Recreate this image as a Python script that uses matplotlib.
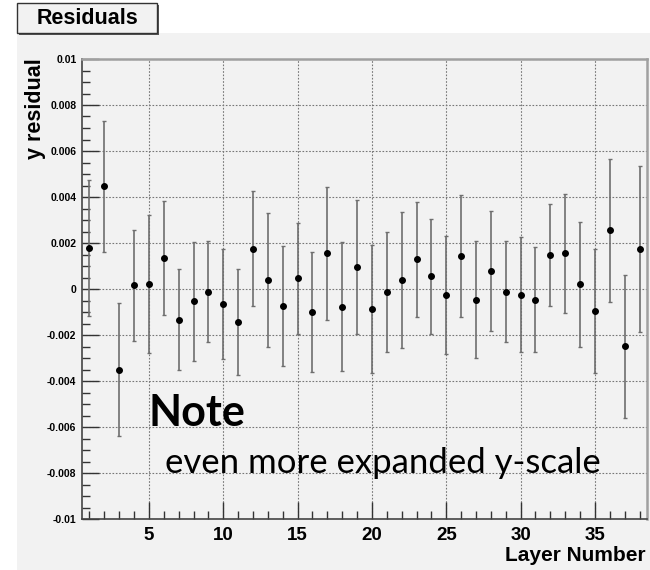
import numpy as np
import matplotlib
matplotlib.use("Agg")
import matplotlib.pyplot as plt
from matplotlib.patches import Rectangle
from matplotlib.ticker import MultipleLocator

# residual per layer and its error
layers = np.arange(1, 39)
residual = [0.00178, 0.00446, -0.0035, 0.00016, 0.0002, 0.00135, -0.00133, -0.00054,
            -0.00012, -0.00064, -0.00143, 0.00175, 0.00039, -0.00074, 0.00046, -0.0010,
            0.00155, -0.00077, 0.00096, -0.00087, -0.00014, 0.00039, 0.00129, 0.00055,
            -0.00027, 0.00145, -0.00046, 0.00078, -0.00012, -0.00026, -0.00046, 0.00148,
            0.00155, 0.0002, -0.00096, 0.00255, -0.00249, 0.00173]
error = [0.00297, 0.00284, 0.0029, 0.0024, 0.0030, 0.00247, 0.0022, 0.0026,
         0.0022, 0.0024, 0.0023, 0.0025, 0.0029, 0.0026, 0.0024, 0.0026,
         0.0029, 0.0028, 0.0029, 0.0028, 0.0026, 0.00296, 0.0025, 0.0025,
         0.00257, 0.00265, 0.00253, 0.0026, 0.0022, 0.0025, 0.0023, 0.0022,
         0.0026, 0.0027, 0.0027, 0.0031, 0.0031, 0.0036]
ytick_vals = [-0.01, -0.008, -0.006, -0.004, -0.002, 0, 0.002, 0.004, 0.006, 0.008, 0.01]
ytick_text = ["-0.01", "-0.008", "-0.006", "-0.004", "-0.002", "0",
              "0.002", "0.004", "0.006", "0.008", "0.01"]

W, H = 650, 570
bg = "#f2f2f2"
sans = "Liberation Sans"
fig = plt.figure(figsize=(W / 100, H / 100), dpi=100, facecolor="white")

# canvas area behind everything
fig.patches.append(Rectangle((17 / W, 0), 1, 1 - 33 / H, transform=fig.transFigure,
                             facecolor=bg, edgecolor="none", zorder=-10))

ax = fig.add_axes([82 / W, 1 - 519 / H, 565 / W, 460 / H])
ax.set_facecolor(bg)

ax.errorbar(layers, residual, yerr=error, fmt="o", color="black", ms=4,
            ecolor="#6e6e6e", elinewidth=1.2, capsize=1.5, capthick=1, zorder=3)

ax.set_xlim(0.5, 38.5)
ax.set_ylim(-0.01, 0.01)
ax.xaxis.set_major_locator(MultipleLocator(5))
ax.xaxis.set_minor_locator(MultipleLocator(1))
ax.set_yticks(ytick_vals)
ax.set_yticklabels(ytick_text)
ax.yaxis.set_minor_locator(MultipleLocator(0.0005))
ax.grid(True, which="major", color="#777777", linestyle=(0, (1.5, 1.5)), linewidth=0.8)

ax.tick_params(axis="both", which="both", direction="in", top=False, right=False, color="#333333")
ax.tick_params(axis="y", which="major", length=12, width=1, labelsize=7.5, pad=4)
ax.tick_params(axis="y", which="minor", length=6, width=1)
ax.tick_params(axis="x", which="major", length=12, width=1, labelsize=13.5, pad=6)
ax.tick_params(axis="x", which="minor", length=6, width=1)
for lab in ax.get_xticklabels() + ax.get_yticklabels():
    lab.set_fontweight("bold")
    lab.set_family(sans)

for side in ["left", "bottom"]:
    ax.spines[side].set_color("#444444")
    ax.spines[side].set_linewidth(1.2)
for side in ["top", "right"]:
    ax.spines[side].set_color("#a0a0a0")
    ax.spines[side].set_linewidth(1.8)

fig.text(35 / W, 1 - 58 / H, "y residual", rotation=90, ha="center", va="top",
         fontsize=15.5, fontweight="bold", family=sans)
fig.text(646 / W, 1 - 561 / H, "Layer Number", ha="right", va="baseline",
         fontsize=15, fontweight="bold", family=sans)

# title box with shadow
fig.patches.append(Rectangle((19 / W, 1 - 35 / H), 140 / W, 30 / H, transform=fig.transFigure,
                             facecolor="#555555", edgecolor="none", zorder=1))
fig.patches.append(Rectangle((17 / W, 1 - 33 / H), 140 / W, 30 / H, transform=fig.transFigure,
                             facecolor=bg, edgecolor="#333333", linewidth=1, zorder=2))
fig.text(87 / W, 1 - 18 / H, "Residuals", ha="center", va="center",
         fontsize=15.5, fontweight="bold", family=sans, zorder=3)

# annotation
fig.text(149 / W, 1 - 426 / H, "Note", ha="left", va="baseline",
         fontsize=31, fontweight="bold", family="Lato", zorder=5)
fig.text(165 / W, 1 - 473 / H, "even more expanded y-scale", ha="left", va="baseline",
         fontsize=25, family="Lato", zorder=5)

fig.savefig("out.png", dpi=100, facecolor="white")
